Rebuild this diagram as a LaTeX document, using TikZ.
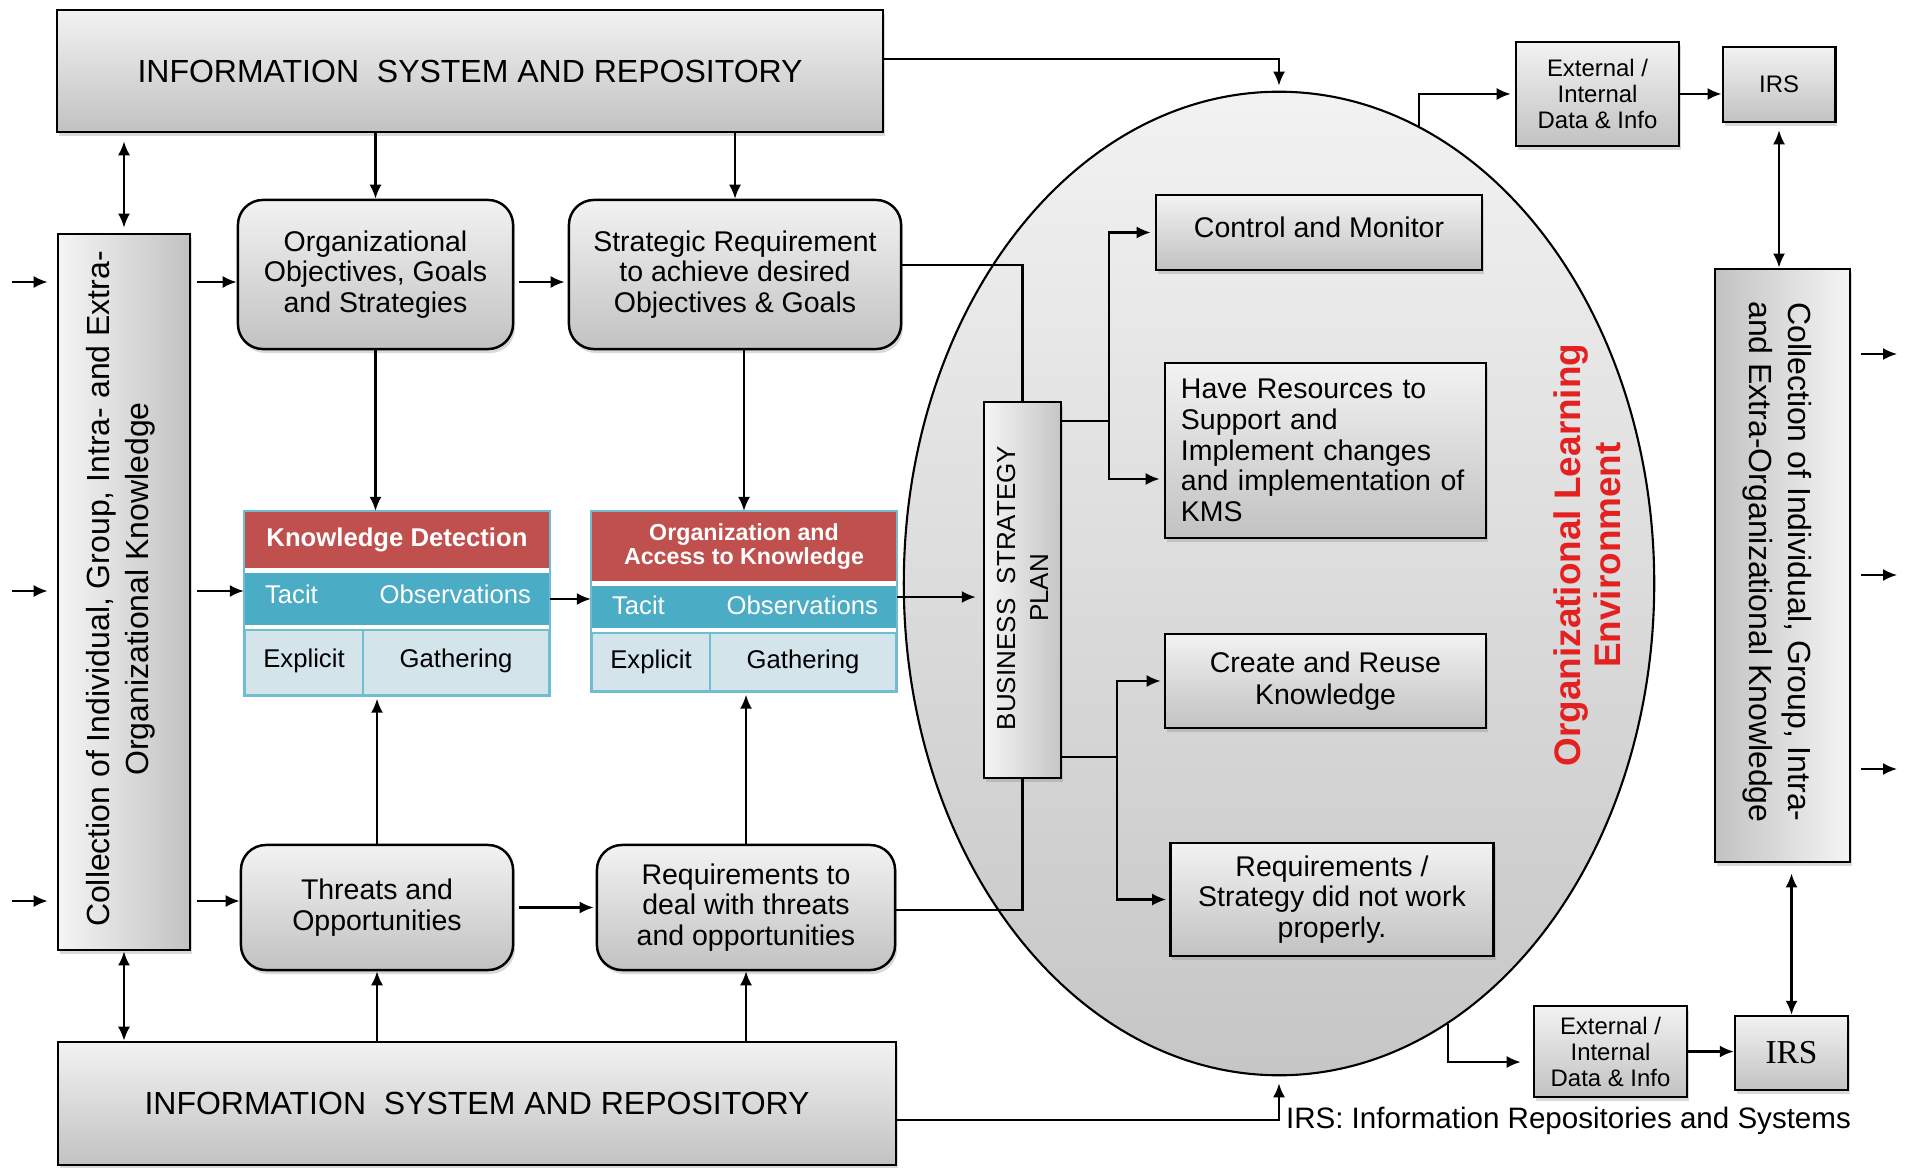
\documentclass[tikz,border=0pt]{standalone}
\usepackage{fontspec}
\setmainfont{Liberation Sans}
\newfontfamily\irsfont{Liberation Serif}
\usetikzlibrary{arrows.meta,shapes.geometric,shadows}

\definecolor{hdred}{HTML}{C0504D}
\definecolor{rowteal}{HTML}{4BACC6}
\definecolor{rowlight}{HTML}{D3E4EB}
\definecolor{olered}{HTML}{E52020}

\begin{document}
\begin{tikzpicture}[
    x=0.01cm, y=-0.01cm,
    >={Latex[length=1.4mm,width=1.2mm]},
    line width=0.6pt,
    greybox/.style={rectangle,draw,line width=0.7pt,inner sep=0pt,
      top color=gray!10,bottom color=gray!48,
      drop shadow={shadow xshift=0.02cm,shadow yshift=-0.04cm,opacity=0.3}},
    roundbox/.style={greybox,rounded corners=0.25cm},
    sidebox/.style={rectangle,draw,line width=0.7pt,inner sep=0pt,
      drop shadow={shadow xshift=0.02cm,shadow yshift=-0.04cm,opacity=0.3}},
    isrtext/.style={font=\fontsize{9.1}{11}\selectfont},
    boxtext/.style={font=\fontsize{8.1}{8.7}\selectfont,align=center},
    smalltext/.style={font=\fontsize{6.8}{7.4}\selectfont,align=center},
    vtext/.style={font=\fontsize{9.1}{11.1}\selectfont,align=center},
    hdcell/.style={rectangle,fill=hdred,inner sep=0pt,text=white,align=center},
    tealcell/.style={rectangle,fill=rowteal,inner sep=0pt},
    lightcell/.style={rectangle,fill=rowlight,draw=rowteal!80,line width=0.4pt,
      inner sep=0pt,font=\fontsize{7.3}{8}\selectfont},
    celltext/.style={font=\fontsize{7.3}{8}\selectfont,text=white,inner sep=0pt}
  ]
  \useasboundingbox (0,0) rectangle (1910,1167);

  % learning environment
  \node (ell) [ellipse,draw,line width=0.6pt,inner sep=0pt,
    top color=gray!10,bottom color=gray!45,
    minimum width=7.5cm,minimum height=9.83cm] at (1279,583.5) {};

  % repositories
  \node (isrtop) [greybox,isrtext,minimum width=8.26cm,minimum height=1.22cm]
    at (470,71) {INFORMATION\ \ SYSTEM AND REPOSITORY};
  \node (isrbot) [greybox,isrtext,minimum width=8.37cm,minimum height=1.23cm]
    at (477,1103.5) {INFORMATION\ \ SYSTEM AND REPOSITORY};

  % left collection
  \node (coll) [sidebox,left color=gray!8,right color=gray!48,
    minimum width=1.32cm,minimum height=7.16cm] at (124,592) {};
  \node (colltxt) [vtext,rotate=90] at (121,589)
    {Collection of Individual, Group, Intra- and Extra-\\Organizational Knowledge};

  \node (obj) [roundbox,boxtext,minimum width=2.75cm,minimum height=1.49cm]
    at (375.5,274.5) {Organizational\\Objectives, Goals\\and Strategies};
  \node (sreq) [roundbox,boxtext,minimum width=3.32cm,minimum height=1.49cm]
    at (735,274.5) {Strategic Requirement\\to achieve desired\\Objectives \& Goals};
  \node (threats) [roundbox,boxtext,minimum width=2.72cm,minimum height=1.25cm]
    at (377,907.5) {Threats and\\Opportunities};
  \node (reqdeal) [roundbox,boxtext,minimum width=2.98cm,minimum height=1.25cm]
    at (746,907.5) {Requirements to\\deal with threats\\and opportunities};

  % knowledge detection table
  \node (kdh) [hdcell,font=\fontsize{7.3}{8}\selectfont\bfseries,
    minimum width=3.04cm,minimum height=0.56cm] at (397,540) {Knowledge Detection};
  \node (kdt) [tealcell,minimum width=3.04cm,minimum height=0.52cm] at (397,599) {};
  \node (kdta) [celltext,anchor=west] at (264,594) {Tacit};
  \node (kdob) [celltext,anchor=east] at (532,594) {Observations};
  \node (kdex) [lightcell,minimum width=1.18cm,minimum height=0.65cm]
    at (304,662.5) {\raisebox{0.9mm}{Explicit}};
  \node (kdga) [lightcell,minimum width=1.86cm,minimum height=0.65cm]
    at (456,662.5) {\raisebox{0.9mm}{Gathering}};
  \draw[rowteal!80,line width=0.6pt] (kdh.north west) rectangle (kdga.south east);

  % organization and access table
  \node (oakh) [hdcell,font=\fontsize{6.6}{6.9}\selectfont\bfseries,
    minimum width=3.04cm,minimum height=0.69cm] at (744,546.5)
    {Organization and\\Access to Knowledge};
  \node (oakt) [tealcell,minimum width=3.04cm,minimum height=0.42cm] at (744,607) {};
  \node (oakta) [celltext,anchor=west] at (611,605) {Tacit};
  \node (oakob) [celltext,anchor=east] at (879,605) {Observations};
  \node (oakex) [lightcell,minimum width=1.18cm,minimum height=0.58cm]
    at (651,662) {\raisebox{0.5mm}{Explicit}};
  \node (oakga) [lightcell,minimum width=1.86cm,minimum height=0.58cm]
    at (803,662) {\raisebox{0.5mm}{Gathering}};
  \draw[rowteal!80,line width=0.6pt] (oakh.north west) rectangle (oakga.south east);

  % strategy plan and its results
  \node (bsp) [sidebox,left color=gray!8,right color=gray!45,
    minimum width=0.77cm,minimum height=3.76cm] at (1022.5,590) {};
  \node (bsptxt) [rotate=90,font=\fontsize{7.4}{9.4}\selectfont,align=center]
    at (1022.5,588) {BUSINESS\ \ STRATEGY\\PLAN};

  \node (ctrl) [greybox,boxtext,minimum width=3.26cm,minimum height=0.75cm]
    at (1319,232.5) {\raisebox{1mm}{Control and Monitor}};
  \node (res) [greybox,boxtext,align=left,text width=2.89cm,
    minimum width=3.21cm,minimum height=1.75cm] at (1325.5,450.5)
    {Have Resources to\\Support and\\Implement changes\\and implementation of\\KMS};
  \node (crea) [greybox,boxtext,minimum width=3.21cm,minimum height=0.94cm]
    at (1325.5,681) {\raisebox{0.5mm}{\shortstack{Create and Reuse\\Knowledge}}};
  \node (rstrat) [greybox,boxtext,minimum width=3.23cm,minimum height=1.13cm]
    at (1332,899.5) {Requirements /\\Strategy did not work\\properly.};

  \node (oletxt) [rotate=90,text=olered,align=center,
    font=\fontsize{10.5}{11.3}\selectfont\bfseries] at (1587,555)
    {Organizational Learning\\Environment};

  % right side
  \node (extt) [greybox,smalltext,minimum width=1.63cm,minimum height=1.04cm]
    at (1597.5,94) {External /\\Internal\\Data \& Info};
  \node (irst) [greybox,smalltext,minimum width=1.125cm,minimum height=0.75cm]
    at (1779,84.5) {IRS};
  \node (collr) [sidebox,left color=gray!48,right color=gray!8,
    minimum width=1.35cm,minimum height=5.93cm] at (1782.5,565.5) {};
  \node (collrtxt) [vtext,rotate=-90] at (1777.5,562)
    {Collection of Individual, Group, Intra-\\and Extra-Organizational Knowledge};
  \node (extb) [greybox,smalltext,minimum width=1.53cm,minimum height=0.91cm]
    at (1610.5,1051.5) {External /\\Internal\\Data \& Info};
  \node (irsb) [greybox,font=\irsfont\fontsize{9.5}{11}\selectfont,
    minimum width=1.13cm,minimum height=0.74cm] at (1791.5,1053) {IRS};

  \node (note) [anchor=west,inner sep=0pt,font=\fontsize{8.4}{10}\selectfont]
    at (1285,1121) {IRS: Information Repositories and Systems};

  % free ends
  \coordinate (in1) at (12,282);
  \coordinate (in2) at (12,591);
  \coordinate (in3) at (12,901);
  \coordinate (out1) at (1897,354);
  \coordinate (out2) at (1897,575);
  \coordinate (out3) at (1897,769);
  \coordinate (brtop) at (1109,421);
  \coordinate (brbot) at (1117,757);

  % left side connectors
  \foreach \i in {1,2,3}
    \draw[->,shorten >=0.09cm] (in\i) -- (in\i -| coll.west);
  \draw[->,shorten <=0.06cm] (coll.east |- in1) -- (obj.west |- in1);
  \draw[->,shorten <=0.06cm] (coll.east |- in2) -- (kdt.west |- in2);
  \draw[->,shorten <=0.06cm] (coll.east |- in3) -- (threats.west |- in3);
  \draw[<->,shorten <=0.05cm,shorten >=0.08cm] (coll.north) -- (coll.north |- isrtop.south);
  \draw[<->] (coll.south) -- (coll.south |- isrbot.north);

  \draw[->,shorten <=0.05cm,shorten >=0.03cm] (obj.east |- in1) -- (sreq.west |- in1);
  \draw[->] (obj.north |- isrtop.south) -- (obj.north);
  \draw[->] (sreq.north |- isrtop.south) -- (sreq.north);
  \draw[->] (obj.south) -- (obj.south |- kdh.north);
  \draw[->] (oakh.north |- sreq.south) -- (oakh.north);
  \draw[->,shorten >=0.03cm] (threats.north) -- (threats.north |- kdga.south);
  \draw[->,shorten >=0.03cm] (reqdeal.north) -- (reqdeal.north |- oakga.south);
  \draw[->] (threats.south |- isrbot.north) -- (threats.south);
  \draw[->] (reqdeal.south |- isrbot.north) -- (reqdeal.south);
  \draw[->,shorten <=0.05cm,shorten >=0.02cm] (threats.east) -- (reqdeal.west);
  \draw[->] (kdt.east) -- (kdt.east -| oakt.west);

  % into the plan
  \draw[->,shorten >=0.07cm] (oakt.east |- 0,597) -- (bsp.west |- 0,597);
  \draw (sreq.east |- 0,265) -| (bsp.north);
  \draw (reqdeal.east |- 0,910) -| (bsp.south);
  \draw (bsp.east |- brtop) -- (brtop);
  \draw[->,shorten >=0.04cm] (brtop) |- (ctrl.west);
  \draw[->,shorten >=0.04cm] (brtop) |- (res.west |- 0,479);
  \draw (bsp.east |- brbot) -- (brbot);
  \draw[->,shorten >=0.03cm] (brbot) |- (crea.west);
  \draw[->,shorten >=0.03cm] (brbot) |- (rstrat.west);

  % around the environment
  \draw[->,shorten >=0.05cm] (isrtop.east |- 0,59) -| (ell.north);
  \draw[->,shorten >=0.07cm] (isrbot.east |- 0,1120) -| (ell.south);
  \draw[->,shorten >=0.04cm] (ell.73) |- (extt.west);
  \draw[->,shorten >=0.12cm] (ell.291) |- (extb.west |- 0,1062);
  \draw[->] (extt.east) -- (extt.east -| irst.west);
  \draw[->] (extb.east) -- (extb.east -| irsb.west);
  \draw[<->,shorten <=0.07cm] (irst.south) -- (irst.south |- collr.north);
  \draw[<->,shorten >=0.1cm] (irsb.north) -- (irsb.north |- collr.south);
  \foreach \i in {1,2,3}
    \draw[->,shorten <=0.1cm] (out\i -| collr.east) -- (out\i);

\end{tikzpicture}
\end{document}
